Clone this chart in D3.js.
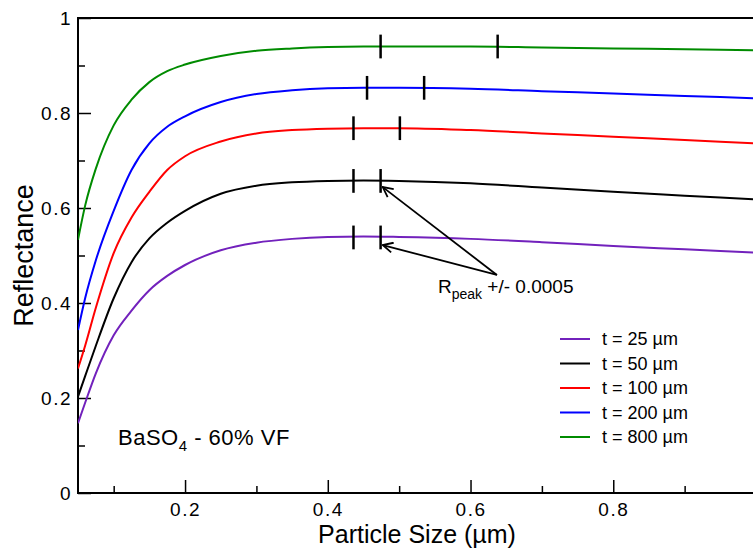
<!DOCTYPE html>
<html>
<head>
<meta charset="utf-8">
<script src="https://cdn.jsdelivr.net/npm/d3@7/dist/d3.min.js"></script>
<style>
	body { margin: 0; background: #fff; }
	svg { display: block; font-family: "Liberation Sans", Arial, sans-serif; }
</style>
</head>
<body>
<script>
(function () {
	"use strict";

	var w = 753;
	var h = 549;

	// particle size (um)
	var sizes = [0.05, 0.06, 0.075, 0.1, 0.125, 0.15, 0.175, 0.2, 0.25, 0.3, 0.35, 0.4, 0.45, 0.5, 0.6, 0.7, 0.8, 0.9, 1.0];

	// reflectance for each thickness
	var r25 = [0.147, 0.190, 0.252, 0.332, 0.384, 0.427, 0.457, 0.480, 0.511, 0.527, 0.535, 0.539, 0.540, 0.539, 0.535, 0.528, 0.520, 0.513, 0.506];
	var r50 = [0.203, 0.246, 0.310, 0.410, 0.486, 0.536, 0.569, 0.594, 0.630, 0.647, 0.654, 0.657, 0.658, 0.657, 0.652, 0.643, 0.634, 0.626, 0.618];
	var r100 = [0.262, 0.310, 0.390, 0.505, 0.580, 0.634, 0.680, 0.709, 0.740, 0.757, 0.764, 0.767, 0.768, 0.768, 0.764, 0.757, 0.750, 0.743, 0.736];
	var r200 = [0.343, 0.410, 0.490, 0.594, 0.680, 0.736, 0.771, 0.793, 0.823, 0.840, 0.848, 0.852, 0.853, 0.853, 0.851, 0.846, 0.841, 0.836, 0.831];
	var r800 = [0.533, 0.605, 0.683, 0.774, 0.828, 0.865, 0.888, 0.902, 0.920, 0.931, 0.936, 0.939, 0.940, 0.940, 0.940, 0.938, 0.936, 0.934, 0.932];

	var seriesNames = ["t = 25 \u00b5m", "t = 50 \u00b5m", "t = 100 \u00b5m", "t = 200 \u00b5m", "t = 800 \u00b5m"];
	var seriesColors = ["#7221bc", "#000000", "#ff0000", "#0000ff", "#008b00"];

	// R_peak +/- 0.0005 range markers
	var peakLow = [0.436, 0.436, 0.436, 0.455, 0.474];
	var peakHigh = [0.474, 0.474, 0.501, 0.535, 0.638];
	var peakVal = [0.538, 0.657, 0.768, 0.853, 0.940];

	var xMajor = [0.2, 0.4, 0.6, 0.8];
	var xMinor = [0.1, 0.3, 0.5, 0.7, 0.9];
	var yMajor = [0, 0.2, 0.4, 0.6, 0.8, 1];
	var yMinor = [0.1, 0.3, 0.5, 0.7, 0.9];

	// annotation arrows: tail then tips (data units)
	var arrowTail = [0.637, 0.459];
	var arrowTips = [[0.477, 0.644], [0.477, 0.522]];

	var series = [r25, r50, r100, r200, r800].map(function (vals, i) {
		return {
			name: seriesNames[i],
			color: seriesColors[i],
			points: vals.map(function (v, j) { return { x: sizes[j], y: v }; }),
			lo: peakLow[i],
			hi: peakHigh[i],
			peak: peakVal[i]
		};
	});

	var left = 78, right = 756, top = 18, bottom = 493;

	var svg = d3.select("body")
		.append("svg")
		.attr("width", w)
		.attr("height", h);

	var xScale = d3.scaleLinear()
		.domain([0.05, 1.0])
		.range([left, right]);

	var yScale = d3.scaleLinear()
		.domain([0, 1])
		.range([bottom, top]);

	var defs = svg.append("defs");
	defs.append("clipPath")
		.attr("id", "plot")
		.append("rect")
		.attr("x", left)
		.attr("y", top)
		.attr("width", right - left)
		.attr("height", bottom - top);

	defs.append("marker")
		.attr("id", "head")
		.attr("viewBox", "0 0 12 12")
		.attr("refX", 11)
		.attr("refY", 6)
		.attr("markerWidth", 12)
		.attr("markerHeight", 12)
		.attr("markerUnits", "userSpaceOnUse")
		.attr("orient", "auto")
		.append("path")
		.attr("d", "M1,1 L11,6 L1,11")
		.attr("fill", "none")
		.attr("stroke", "#000")
		.attr("stroke-width", 1.8);

	// Axes (ticks pointing inward)
	function fmt(d) { return (d === 0 || d === 1) ? String(d) : d.toFixed(1); }

	svg.append("g")
		.attr("transform", "translate(0," + bottom + ")")
		.call(d3.axisBottom(xScale).tickValues(xMajor).tickSize(-13).tickPadding(10).tickFormat(fmt));
	svg.append("g")
		.attr("transform", "translate(0," + bottom + ")")
		.call(d3.axisBottom(xScale).tickValues(xMinor).tickSize(-7).tickFormat(""));

	svg.append("g")
		.attr("transform", "translate(" + left + ",0)")
		.call(d3.axisLeft(yScale).tickValues(yMajor).tickSize(-13).tickPadding(6).tickFormat(fmt));
	svg.append("g")
		.attr("transform", "translate(" + left + ",0)")
		.call(d3.axisLeft(yScale).tickValues(yMinor).tickSize(-7).tickFormat(""));

	svg.selectAll(".domain").remove();
	svg.selectAll(".tick line").attr("stroke", "#000").attr("stroke-width", 1.5);
	svg.selectAll(".tick text")
		.attr("fill", "#000")
		.style("font-size", "19px")
		.style("letter-spacing", "1.5px")
		.style("font-family", "'Liberation Sans', Arial, sans-serif");

	// frame
	svg.append("rect")
		.attr("x", left)
		.attr("y", top)
		.attr("width", right - left)
		.attr("height", bottom - top)
		.attr("fill", "none")
		.attr("stroke", "#000")
		.attr("stroke-width", 2);

	// Lines
	var lineFun = d3.line()
		.x(function (d) { return xScale(d.x); })
		.y(function (d) { return yScale(d.y); })
		.curve(d3.curveMonotoneX);

	var plot = svg.append("g").attr("clip-path", "url(#plot)");

	plot.selectAll("path.curve")
		.data(series)
		.enter().append("path")
		.attr("class", "curve")
		.attr("d", function (d) { return lineFun(d.points); })
		.attr("stroke", function (d) { return d.color; })
		.attr("stroke-width", 2)
		.attr("fill", "none");

	// peak range markers
	series.forEach(function (s) {
		[s.lo, s.hi].forEach(function (xv) {
			plot.append("line")
				.attr("x1", xScale(xv)).attr("x2", xScale(xv))
				.attr("y1", yScale(s.peak + 0.025)).attr("y2", yScale(s.peak - 0.025))
				.attr("stroke", "#000")
				.attr("stroke-width", 2.5);
		});
	});

	// arrows
	arrowTips.forEach(function (t) {
		svg.append("line")
			.attr("x1", xScale(arrowTail[0])).attr("y1", yScale(arrowTail[1]))
			.attr("x2", xScale(t[0])).attr("y2", yScale(t[1]))
			.attr("stroke", "#000")
			.attr("stroke-width", 1.8)
			.attr("marker-end", "url(#head)");
	});

	var note = svg.append("text")
		.attr("x", 438)
		.attr("y", 293)
		.style("font-size", "19px");
	note.append("tspan").text("R");
	note.append("tspan").attr("dy", 6).style("font-size", "14px").text("peak");
	note.append("tspan").attr("dy", -6).text(" +/- 0.0005");

	var mat = svg.append("text")
		.attr("x", 118)
		.attr("y", 445)
		.style("font-size", "22px")
		.style("letter-spacing", "0.5px");
	mat.append("tspan").text("BaSO");
	mat.append("tspan").attr("dy", 6).style("font-size", "15px").text("4");
	mat.append("tspan").attr("dy", -6).text(" - 60% VF");

	// Legend
	var legend = svg.append("g");
	series.forEach(function (s, i) {
		var ly = 339 + i * 24.5;
		legend.append("line")
			.attr("x1", 560).attr("x2", 590)
			.attr("y1", ly).attr("y2", ly)
			.attr("stroke", s.color)
			.attr("stroke-width", 2);
		legend.append("text")
			.attr("x", 602)
			.attr("y", ly + 6)
			.style("font-size", "18px")
			.text(s.name);
	});

	// Axis titles
	svg.append("text")
		.attr("x", (left + right) / 2)
		.attr("y", 543)
		.attr("text-anchor", "middle")
		.style("font-size", "25px")
		.text("Particle Size (\u00b5m)");

	svg.append("text")
		.attr("transform", "translate(33," + ((top + bottom) / 2) + ") rotate(-90)")
		.attr("text-anchor", "middle")
		.style("font-size", "27px")
		.text("Reflectance");
})();
</script>
</body>
</html>
